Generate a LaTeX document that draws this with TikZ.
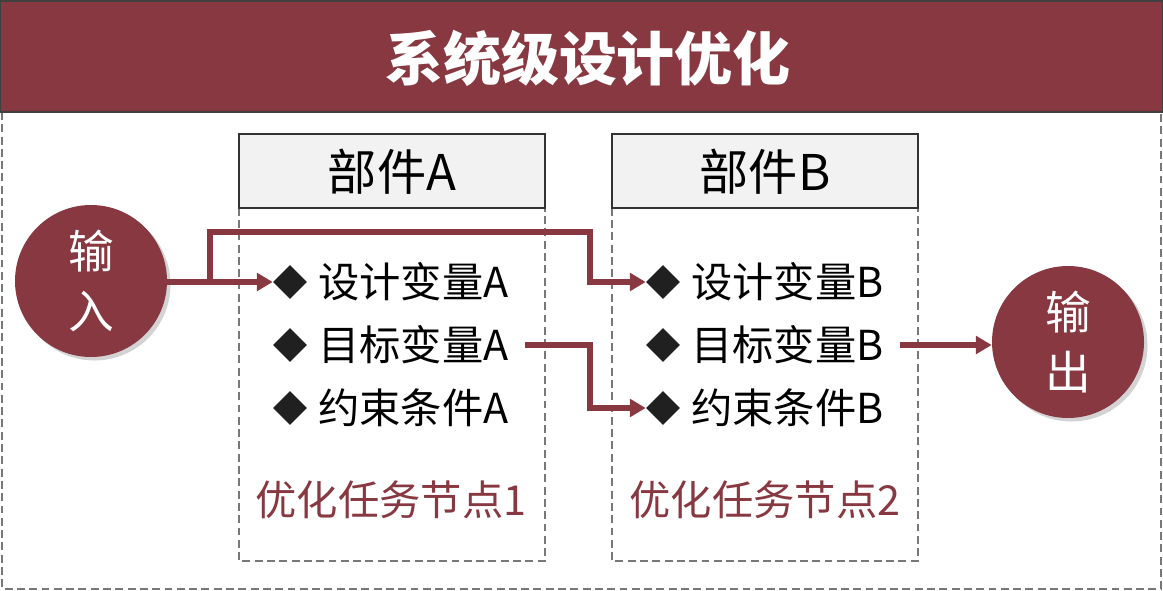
\documentclass[tikz,border=0pt]{standalone}
\usepackage{fontspec}
\setmainfont{Noto Sans CJK SC}
\usetikzlibrary{arrows.meta,shapes.geometric,shadows}
\definecolor{wine}{RGB}{136,56,64}
\definecolor{frame}{RGB}{120,120,120}
\definecolor{headfill}{RGB}{242,242,242}
\definecolor{bullet}{RGB}{32,32,32}
\begin{document}
\begin{tikzpicture}[x=0.02cm, y=-0.02cm,
    flow/.style={wine, line width=2.9pt, -{Triangle[length=9pt,width=10pt]}},
    dashbox/.style={frame, line width=1.6pt, dash pattern=on 4.5pt off 2.5pt},
    head/.style={draw=black!80, fill=headfill, line width=1pt},
    io/.style={circle, fill=wine, minimum size=152*0.02cm, inner sep=0pt, text=white,
        font=\fontsize{26}{34}\selectfont, align=center,
        drop shadow={opacity=0.35, shadow xshift=2pt, shadow yshift=-2pt}},
    dot/.style={diamond, fill=bullet, minimum size=34*0.02cm, inner sep=0pt},
    item/.style={anchor=west, inner xsep=9pt, inner ysep=0pt, font=\fontsize{23.5}{28}\selectfont},
    task/.style={wine, font=\fontsize{23.5}{28}\selectfont}]
    \useasboundingbox (0,0) rectangle (1163,591);
    % outer frame and title bar
    \draw[dashbox] (2,112) rectangle (1161,589);
    \draw[fill=wine, draw=black!75, line width=1.5pt] (0,1) rectangle (1163,112);
    \node[text=white, font=\fontsize{33}{40}\selectfont\bfseries] (title) at (588,58) {系统级设计优化};
    % optimisation task node 1
    \draw[dashbox] (239,134) rectangle (545,561);
    \draw[head] (239,134) rectangle (545,208);
    \node[font=\fontsize{28}{34}\selectfont] (partA) at (392,172) {部件A};
    \node[dot] (dA1) at (290,282) {};
    \node[dot] (dA2) at (290,345) {};
    \node[dot] (dA3) at (290,408) {};
    \node[item] (tA1) at (302,282) {设计变量A};
    \node[item] (tA2) at (302,345) {目标变量A};
    \node[item] (tA3) at (302,408) {约束条件A};
    \node[task] (taskA) at (391,500) {优化任务节点1};
    % optimisation task node 2
    \draw[dashbox] (612,134) rectangle (918,561);
    \draw[head] (612,134) rectangle (918,208);
    \node[font=\fontsize{28}{34}\selectfont] (partB) at (765,172) {部件B};
    \node[dot] (dB1) at (663,282) {};
    \node[dot] (dB2) at (663,345) {};
    \node[dot] (dB3) at (663,408) {};
    \node[item] (tB1) at (675,282) {设计变量B};
    \node[item] (tB2) at (675,345) {目标变量B};
    \node[item] (tB3) at (675,408) {约束条件B};
    \node[task] (taskB) at (765,500) {优化任务节点2};
    % input and output
    \node[io] (in) at (91,281) {输\\入};
    \node[io] (out) at (1068,342) {输\\出};
    % connectors
    \coordinate (split) at (210,282);
    \coordinate (turn1) at (590,232);
    \coordinate (turn2) at (590,408);
    \draw[flow] (in.east |- dA1) -- (dA1.west);
    \draw[flow] (split) |- (turn1) |- (dB1.west);
    \draw[flow] (tA2.east) -| (turn2) -- (dB3.west);
    \draw[flow] (tB2.east) -- (out.west |- tB2.east);
\end{tikzpicture}
\end{document}
